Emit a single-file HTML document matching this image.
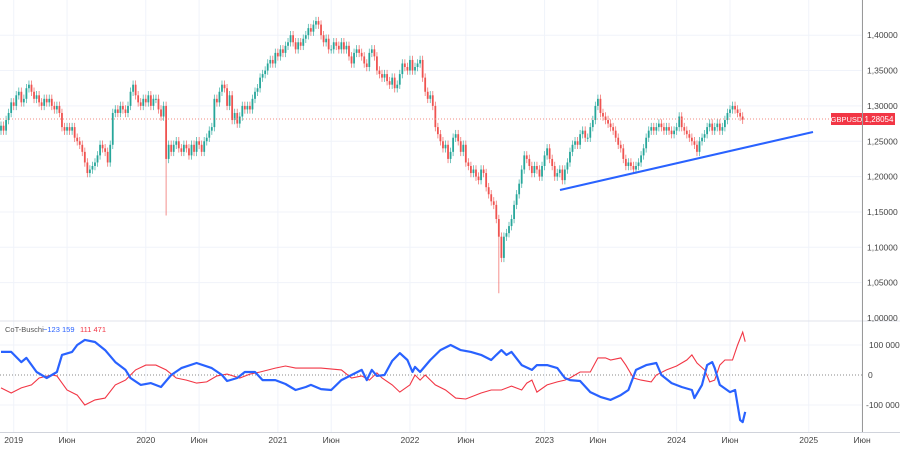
<!DOCTYPE html>
<html><head><meta charset="utf-8"><style>
html,body{margin:0;padding:0;background:#fff;}
svg{display:block;font-family:"Liberation Sans",sans-serif;}
</style></head><body>
<svg id="chart" width="900" height="449" viewBox="0 0 900 449">
<g id="grid"></g>
<g id="candles"></g>
<line x1="0" y1="119" x2="862" y2="119" stroke="#f28b82" stroke-dasharray="1,2"/>
<line x1="560" y1="190" x2="813" y2="132" stroke="#2962ff" stroke-width="2"/>
<line x1="0" y1="321" x2="900" y2="321" stroke="#e0e3eb"/>
<line x1="0" y1="375" x2="862" y2="375" stroke="#888" stroke-dasharray="1,2"/>
<g id="cot"></g>
<line x1="862.5" y1="0" x2="862.5" y2="432" stroke="#999"/>
<line x1="0" y1="432.5" x2="900" y2="432.5" stroke="#d0d3db"/>
<g id="axes" font-size="8.5" fill="#444"></g>
<rect x="831" y="113" width="31" height="12" fill="#f23645"/>
<text x="846.5" y="122" font-size="7.5" fill="#fff" text-anchor="middle">GBPUSD</text>
<rect x="863" y="113" width="32" height="12" fill="#f23645"/>
<text x="879" y="122" font-size="8" fill="#fff" text-anchor="middle">1,28054</text>
<text x="5" y="332" font-size="7.5" fill="#555">CoT-Buschi</text>
<text x="43" y="332" font-size="7.5" fill="#2962ff">−123 159</text>
<text x="80" y="332" font-size="7.5" fill="#f23645">111 471</text>
</svg>
<script>
const closes=[1.272,1.265,1.28,1.29,1.305,1.30,1.315,1.32,1.305,1.31,1.325,1.33,1.32,1.31,1.315,1.305,1.30,1.31,1.305,1.31,1.30,1.295,1.30,1.29,1.27,1.265,1.27,1.265,1.27,1.255,1.25,1.245,1.235,1.22,1.205,1.21,1.215,1.22,1.23,1.245,1.24,1.235,1.22,1.245,1.29,1.295,1.29,1.30,1.295,1.29,1.30,1.32,1.33,1.315,1.305,1.30,1.31,1.305,1.315,1.30,1.31,1.31,1.295,1.285,1.30,1.225,1.245,1.235,1.245,1.25,1.24,1.235,1.245,1.24,1.23,1.245,1.235,1.25,1.245,1.235,1.25,1.255,1.265,1.27,1.31,1.305,1.32,1.33,1.325,1.30,1.315,1.28,1.29,1.275,1.285,1.30,1.295,1.30,1.295,1.31,1.32,1.325,1.34,1.345,1.35,1.36,1.365,1.36,1.375,1.37,1.38,1.375,1.385,1.39,1.40,1.39,1.38,1.39,1.385,1.395,1.40,1.41,1.405,1.415,1.42,1.415,1.40,1.39,1.395,1.38,1.38,1.39,1.385,1.38,1.39,1.38,1.385,1.37,1.36,1.375,1.38,1.375,1.37,1.36,1.355,1.375,1.38,1.37,1.35,1.345,1.34,1.345,1.335,1.33,1.34,1.325,1.33,1.345,1.36,1.355,1.35,1.365,1.35,1.355,1.36,1.365,1.34,1.32,1.31,1.315,1.30,1.27,1.26,1.25,1.24,1.245,1.225,1.235,1.255,1.26,1.25,1.235,1.245,1.22,1.215,1.205,1.21,1.20,1.195,1.21,1.205,1.185,1.175,1.165,1.16,1.14,1.115,1.085,1.115,1.12,1.13,1.14,1.16,1.175,1.19,1.21,1.23,1.225,1.215,1.205,1.215,1.21,1.20,1.215,1.23,1.24,1.225,1.215,1.20,1.205,1.21,1.195,1.21,1.22,1.235,1.245,1.25,1.245,1.26,1.265,1.255,1.255,1.27,1.28,1.30,1.31,1.29,1.285,1.28,1.275,1.27,1.265,1.255,1.245,1.24,1.225,1.215,1.22,1.215,1.21,1.215,1.22,1.23,1.24,1.255,1.265,1.27,1.265,1.27,1.275,1.27,1.265,1.27,1.265,1.26,1.265,1.27,1.285,1.27,1.265,1.26,1.255,1.25,1.245,1.235,1.25,1.255,1.26,1.27,1.275,1.265,1.27,1.275,1.265,1.27,1.28,1.29,1.295,1.30,1.295,1.29,1.285,1.2805];
const specialLowWeeks=[65,196];
const specialLows=[1.145,1.035];
const blueWeeks=[0,4,8,10,14,18,22,24,28,30,33,37,41,45,49,51,55,59,63,67,71,77,83,87,89,93,96,100,103,108,112,116,120,122,126,130,134,138,142,144,146,148,151,154,157,160,162,163,165,169,173,177,181,185,189,193,195,197,199,201,205,209,211,215,219,222,224,228,232,236,240,244,247,250,254,258,260,264,268,272,273,276,278,280,281,283,287,289,290,291,292,293];
const blueVals=[77,77,43,57,10,-10,10,67,77,100,117,110,83,43,17,-10,-33,-27,-40,0,23,40,23,0,-20,-10,10,10,-17,-17,-30,-50,-40,-33,-47,-50,-17,0,17,-17,17,-3,0,47,73,50,10,27,10,50,83,100,83,77,67,50,67,83,67,77,33,17,33,33,23,-10,-17,-20,-57,-73,-83,-67,-50,17,33,40,0,-27,-40,-50,-77,-33,33,43,23,-33,-57,-50,-100,-150,-157,-123];
const redWeeks=[0,4,8,12,15,20,22,26,30,33,37,41,45,49,53,57,61,65,69,73,77,81,85,89,94,98,102,108,112,116,118,126,134,138,142,145,148,150,154,157,161,163,165,167,171,175,179,183,189,193,197,201,205,207,209,211,215,219,222,224,226,228,232,235,238,240,244,246,249,252,256,258,262,266,270,272,274,277,279,281,283,285,288,290,292,293];
const redVals=[-43,-60,-43,-33,-10,0,-3,-50,-67,-100,-83,-77,-33,-17,17,33,33,17,-10,-17,-27,-23,-3,3,-10,3,10,23,30,23,23,23,17,-10,-3,-17,7,-10,-33,-57,-33,0,-17,0,-33,-50,-77,-80,-60,-50,-50,-37,-50,-27,-17,-57,-33,-23,-17,-10,0,10,10,57,57,50,57,33,-10,-17,-23,0,17,30,50,67,40,17,-23,-17,33,50,50,100,143,111];
const priceTicks=[1.40,1.35,1.30,1.25,1.20,1.15,1.10,1.05,1.00];
const cotTicks=[100,0,-100];
const timeLabels=["2019","Июн","2020","Июн","2021","Июн","2022","Июн","2023","Июн","2024","Июн","2025","Июн"];
const timeWeeks=[5,26,57,78,109,130,161,183,214,235,266,287,318,339];

const NS="http://www.w3.org/2000/svg";
const xW=w=>w*2.54+1;
const yP=p=>318-(p-1.0)*707;
const yC=v=>375-v*0.3;
function mk(tag,attrs,parent){const e=document.createElementNS(NS,tag);for(const k in attrs)e.setAttribute(k,attrs[k]);parent.appendChild(e);return e;}
const grid=document.getElementById('grid'),axes=document.getElementById('axes');
priceTicks.forEach(p=>{
  if(p>1.0){const l=mk('line',{x1:0,x2:862,y1:yP(p),y2:yP(p),stroke:'#f0f3fa'},grid);
  
  }
  const t=mk('text',{x:867,y:yP(p)+3},axes);t.textContent=p.toFixed(5).replace('.',',');
  
  
});
cotTicks.forEach(v=>{
  if(v!==0){const l=mk('line',{x1:0,x2:862,y1:yC(v),y2:yC(v),stroke:'#f0f3fa'},grid);
  
  }
  const t=mk('text',{x:v<0?866:(v===0?868:869),y:yC(v)+3},axes);t.textContent=v===0?'0':(v<0?'-':'')+Math.abs(v)+' 000';
  
  
});
timeLabels.forEach((s,i)=>{
  const x=xW(timeWeeks[i]);
  const l=mk('line',{x1:x,x2:x,y1:0,y2:432,stroke:'#f0f3fa'},grid);
  
  
  const t=mk('text',{x:x,y:443,'text-anchor':'middle'},axes);t.textContent=s;
  
  
});
const cg=document.getElementById('candles');
closes.forEach((c,i)=>{
  const o=i===0?1.265:closes[i-1];
  const up=c>=o,col=up?'#26a69a':'#ef5350';
  const x=xW(i);
  let hi=Math.max(o,c)+0.006,lo=Math.min(o,c)-0.006;
  const si=specialLowWeeks.indexOf(i);if(si>=0)lo=specialLows[si];
  const w=mk('line',{x1:x,x2:x,y1:yP(hi),y2:yP(lo),stroke:col,'stroke-width':0.8,opacity:0.8},cg);
  
  
  const top=yP(Math.max(o,c)),h=Math.max(1,yP(Math.min(o,c))-top);
  const b=mk('rect',{x:x-0.9,y:top,width:1.8,height:h,fill:col},cg);
  
  
});
const cot=document.getElementById('cot');
const pl=(ws,vs)=>ws.map((w,i)=>xW(w).toFixed(1)+','+yC(vs[i]).toFixed(1)).join(' ');
const r=mk('polyline',{points:pl(redWeeks,redVals),fill:'none',stroke:'#f23645','stroke-width':1.1},cot);


const bl=mk('polyline',{points:pl(blueWeeks,blueVals),fill:'none',stroke:'#2962ff','stroke-width':2.2,'stroke-linejoin':'round'},cot);


</script>
</body></html>
